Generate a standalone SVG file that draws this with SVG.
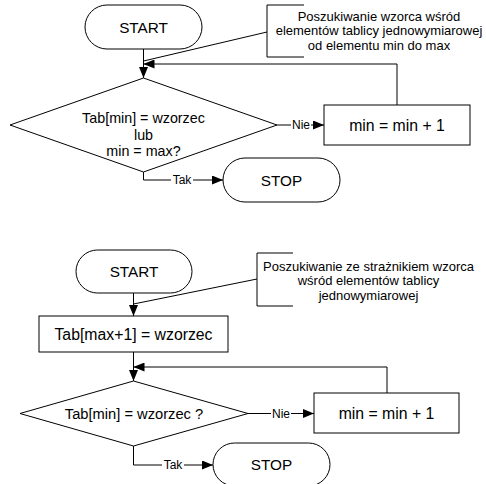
<svg xmlns="http://www.w3.org/2000/svg" width="486" height="484" viewBox="0 0 486 484">
<style>
.shape{fill:#fff;stroke:#000;stroke-width:1}
.line{fill:none;stroke:#000;stroke-width:1}
text{font-family:"Liberation Sans",Arial,sans-serif;fill:#000;text-anchor:middle;dominant-baseline:central}
.term{font-size:15.3px}
.proc{font-size:15.8px}
.dec{font-size:14.3px}
.note{font-size:13px}
.lbl{font-size:12px}
.bg{fill:#fff;stroke:none}
</style>
<defs>
<marker id="arr" markerUnits="userSpaceOnUse" markerWidth="11" markerHeight="9" refX="11" refY="4.5" orient="auto">
<path d="M0,0 L11,4.5 L0,9 z" fill="#000"/>
</marker>
</defs>
<rect width="486" height="484" fill="#fff"/>

<g id="connectors">
<!-- top flow -->
<line class="line" x1="143.5" y1="49" x2="143.5" y2="78" marker-end="url(#arr)"/>
<line class="line" x1="267" y1="32" x2="143.5" y2="61"/>
<polyline class="line" points="397,105 397,64 143.5,64" marker-end="url(#arr)"/>
<line class="line" x1="277" y1="125" x2="324" y2="125" marker-end="url(#arr)"/>
<rect class="bg" x="291" y="118" width="20" height="14"/>
<text class="lbl" x="301" y="125">Nie</text>
<polyline class="line" points="143.5,172 143.5,180 223,180" marker-end="url(#arr)"/>
<rect class="bg" x="171" y="173" width="22" height="14"/>
<text class="lbl" x="182" y="180">Tak</text>
<!-- bottom flow -->
<line class="line" x1="133.5" y1="293" x2="133.5" y2="316" marker-end="url(#arr)"/>
<line class="line" x1="257" y1="279" x2="133.5" y2="304"/>
<line class="line" x1="133.5" y1="352" x2="133.5" y2="381" marker-end="url(#arr)"/>
<polyline class="line" points="387,393 387,367 133.5,367" marker-end="url(#arr)"/>
<line class="line" x1="248" y1="413.5" x2="314" y2="413.5" marker-end="url(#arr)"/>
<rect class="bg" x="271" y="406" width="20" height="14"/>
<text class="lbl" x="281" y="413.5">Nie</text>
<polyline class="line" points="133.5,446 133.5,465 213,465" marker-end="url(#arr)"/>
<rect class="bg" x="162" y="458" width="22" height="14"/>
<text class="lbl" x="173" y="465">Tak</text>
</g>

<g id="start1">
<rect class="shape" x="85" y="5" width="117" height="44" rx="22" ry="22"/>
<text class="term" x="143.5" y="27">START</text>
</g>
<g id="note1">
<polyline class="line" points="304,5 267,5 267,57 304,57"/>
<text class="note" x="379" y="16">Poszukiwanie wzorca wśród</text>
<text class="note" x="379" y="30.5">elementów tablicy jednowymiarowej</text>
<text class="note" x="379" y="45">od elementu min do max</text>
</g>
<g id="decision1">
<polygon class="shape" points="143.5,78 277,125 143.5,172 10,125"/>
<text class="dec" x="143.5" y="118">Tab[min] = wzorzec</text>
<text class="dec" x="143.5" y="134.5">lub</text>
<text class="dec" x="143.5" y="151">min = max?</text>
</g>
<g id="inc1">
<rect class="shape" x="324" y="105" width="146" height="40"/>
<text class="proc" x="397" y="125">min = min + 1</text>
</g>
<g id="stop1">
<rect class="shape" x="223" y="158" width="117" height="44" rx="22" ry="22"/>
<text class="term" x="281.5" y="180">STOP</text>
</g>

<g id="start2">
<rect class="shape" x="76" y="250" width="116" height="43" rx="21.5" ry="21.5"/>
<text class="term" x="134" y="271.5">START</text>
</g>
<g id="note2">
<polyline class="line" points="293,253 257,253 257,306 293,306"/>
<text class="note" x="368.5" y="266">Poszukiwanie ze strażnikiem wzorca</text>
<text class="note" x="368.5" y="280.5">wśród elementów tablicy</text>
<text class="note" x="368.5" y="295">jednowymiarowej</text>
</g>
<g id="sentinel">
<rect class="shape" x="39" y="316" width="189" height="36"/>
<text class="proc" x="133.5" y="334.5">Tab[max+1] = wzorzec</text>
</g>
<g id="decision2">
<polygon class="shape" points="133.5,381 248,413.5 133.5,446 20,413.5"/>
<text class="dec" x="134" y="413.5" style="font-size:14.7px">Tab[min] = wzorzec ?</text>
</g>
<g id="inc2">
<rect class="shape" x="314" y="393" width="145" height="40"/>
<text class="proc" x="386.5" y="413">min = min + 1</text>
</g>
<g id="stop2">
<rect class="shape" x="213" y="443" width="117" height="43" rx="21.5" ry="21.5"/>
<text class="term" x="271.5" y="464.5">STOP</text>
</g>
</svg>
